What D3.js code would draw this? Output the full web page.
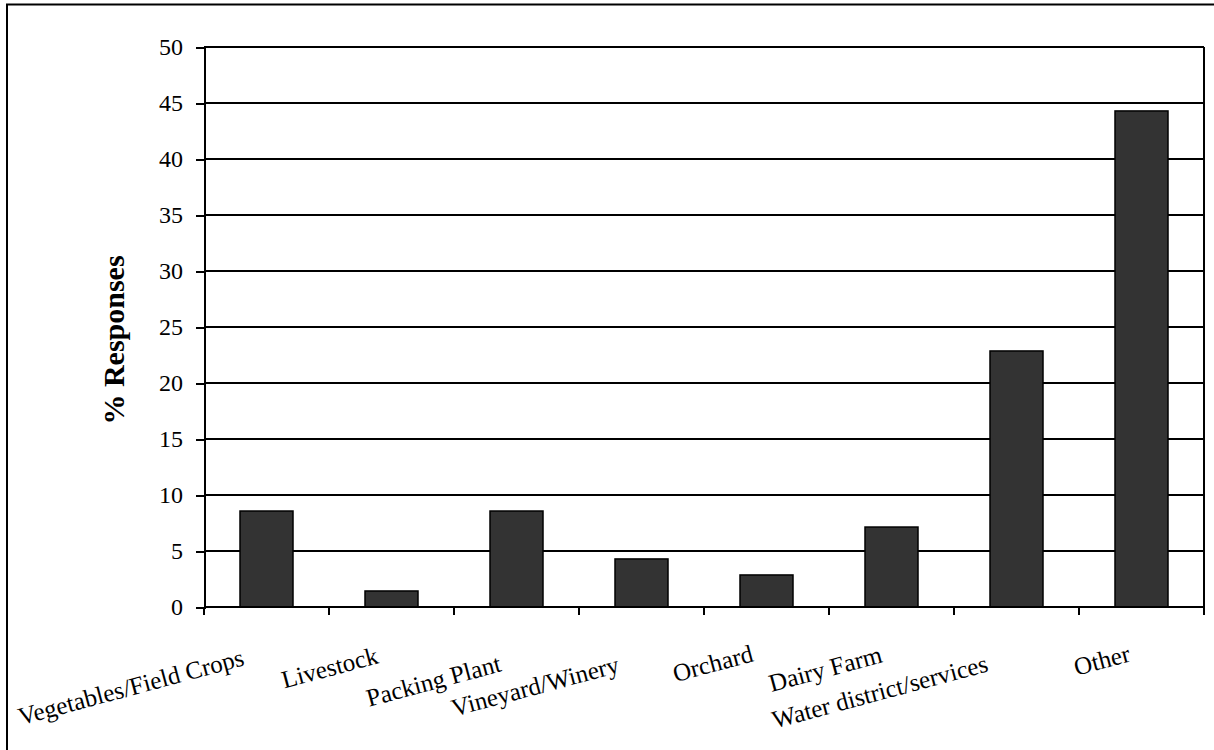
<!DOCTYPE html>
<html>
<head>
<meta charset="utf-8">
<script src="https://cdnjs.cloudflare.com/ajax/libs/d3/7.8.5/d3.min.js"></script>
<style>
  html, body { margin: 0; padding: 0; background: #fff; }
  svg { display: block; }
  text { font-family: "Liberation Serif", "Times New Roman", serif; fill: #000; }
</style>
</head>
<body>
<svg id="chart" width="1214" height="750"></svg>
<script>
// Survey responses by business type (% of respondents)
const categories = [
  "Vegetables/Field Crops", "Livestock", "Packing Plant", "Vineyard/Winery",
  "Orchard", "Dairy Farm", "Water district/services", "Other"
];
const responses = [8.57, 1.43, 8.57, 4.29, 2.86, 7.14, 22.86, 44.29];
const yTicks = [0, 5, 10, 15, 20, 25, 30, 35, 40, 45, 50];
const yTitle = "% Responses";

// Layout
const W = 1214, H = 750;
const plot = { left: 204, right: 1204, top: 47, bottom: 607 };

// Category label placement: end of each slanted label relative to its band centre
const labelShift = [
  [-21, 58], [-12, 56], [-14, 64], [-21, 65],
  [-12, 54], [-8, 55], [-27, 64], [-10, 54]
];
const labelAngle = -15;

const svg = d3.select("#chart");

// Outer frame (runs past the right and bottom edges)
svg.append("rect")
  .attr("x", 7).attr("y", 4.5)
  .attr("width", W + 20).attr("height", H + 20)
  .attr("fill", "none").attr("stroke", "#000").attr("stroke-width", 2);

const x = d3.scaleBand()
  .domain(categories)
  .range([plot.left, plot.right])
  .paddingInner(0.576)
  .paddingOuter(0.288);

const y = d3.scaleLinear()
  .domain([0, 50])
  .range([plot.bottom, plot.top]);

// Horizontal gridlines
svg.append("g")
  .attr("shape-rendering", "crispEdges")
  .selectAll("line")
  .data(yTicks.filter(t => t > 0))
  .join("line")
  .attr("x1", plot.left).attr("x2", plot.right)
  .attr("y1", d => y(d)).attr("y2", d => y(d))
  .attr("stroke", "#000").attr("stroke-width", 2);

// Right edge of plot area
svg.append("line")
  .attr("shape-rendering", "crispEdges")
  .attr("x1", plot.right).attr("x2", plot.right)
  .attr("y1", plot.top).attr("y2", plot.bottom)
  .attr("stroke", "#000").attr("stroke-width", 2);

// Bars
svg.append("g")
  .selectAll("rect")
  .data(categories.map((c, i) => ({ c, v: responses[i] })))
  .join("rect")
  .attr("x", d => x(d.c))
  .attr("width", x.bandwidth())
  .attr("y", d => y(d.v))
  .attr("height", d => y(0) - y(d.v))
  .attr("fill", "#333333")
  .attr("stroke", "#000")
  .attr("stroke-width", 1.5);

// Y axis
const yAxis = d3.axisLeft(y)
  .tickValues(yTicks)
  .tickSize(8)
  .tickPadding(13)
  .tickFormat(d3.format("d"));
const gy = svg.append("g")
  .attr("transform", `translate(${plot.left},0)`)
  .attr("shape-rendering", "crispEdges")
  .call(yAxis);
gy.select(".domain").attr("stroke-width", 2);
gy.selectAll(".tick line").attr("stroke-width", 2);
gy.selectAll(".tick text")
  .attr("font-size", 24)
  .attr("font-family", "Liberation Serif, serif");

// X axis: tick marks at category boundaries
const step = x.step();
const boundaries = d3.range(categories.length + 1).map(i => plot.left + i * step);
const gx = svg.append("g").attr("shape-rendering", "crispEdges");
gx.append("line")
  .attr("x1", plot.left).attr("x2", plot.right)
  .attr("y1", y(0)).attr("y2", y(0))
  .attr("stroke", "#000").attr("stroke-width", 2);
gx.selectAll("line.tick")
  .data(boundaries)
  .join("line")
  .attr("class", "tick")
  .attr("x1", d => d).attr("x2", d => d)
  .attr("y1", y(0)).attr("y2", y(0) + 8)
  .attr("stroke", "#000").attr("stroke-width", 2);

// Slanted category labels
svg.append("g")
  .selectAll("text")
  .data(categories)
  .join("text")
  .attr("transform", (d, i) => {
    const cx = x(d) + x.bandwidth() / 2 + labelShift[i][0];
    const cy = y(0) + labelShift[i][1];
    return `translate(${cx},${cy}) rotate(${labelAngle})`;
  })
  .attr("text-anchor", "end")
  .attr("font-size", 25)
  .text(d => d);

// Y axis title
svg.append("text")
  .attr("transform", `translate(124,340) rotate(-90)`)
  .attr("text-anchor", "middle")
  .attr("font-size", 30)
  .attr("font-weight", "bold")
  .text(yTitle);
</script>
</body>
</html>
